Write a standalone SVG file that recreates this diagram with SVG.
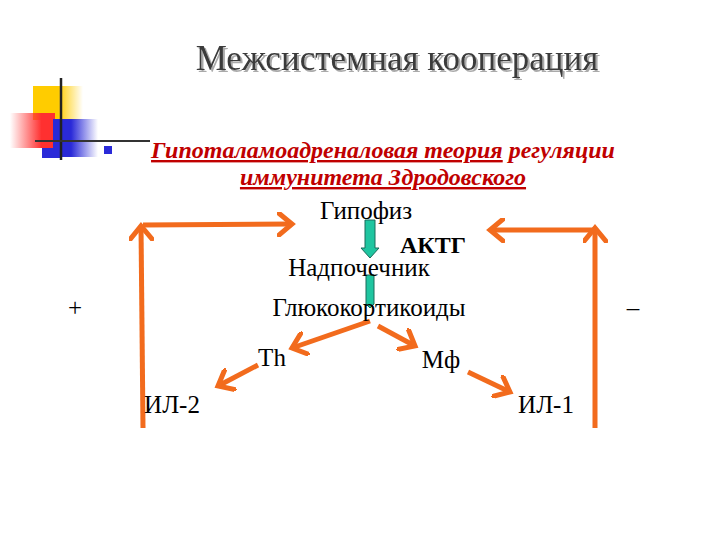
<svg xmlns="http://www.w3.org/2000/svg" width="720" height="540" viewBox="0 0 720 540">
<style>
.t{font-family:"Liberation Serif",serif;fill:#000;font-size:25px}
.o{stroke:#f26b1d;stroke-width:5;fill:none}
.g{fill:#1fc5a0;stroke:#1a6a5a;stroke-width:1}
.s{font-family:"Liberation Serif",serif;font-size:24px;font-style:italic;font-weight:bold;fill:#c00000}
.u{text-decoration:underline}
</style>
<defs>
<marker id="a" markerWidth="5" markerHeight="5" refX="3" refY="2.5" orient="auto" markerUnits="strokeWidth"><path d="M0,0 L3,2.5 L0,5" fill="none" stroke="#f26b1d" stroke-width="1"/></marker>
<linearGradient id="gy" x1="0" x2="1"><stop offset="0.5" stop-color="#ffcc00"/><stop offset="1" stop-color="#ffcc00" stop-opacity="0"/></linearGradient>
<linearGradient id="gr" x1="1" x2="0"><stop offset="0.3" stop-color="#ff3030"/><stop offset="1" stop-color="#ff3030" stop-opacity="0"/></linearGradient>
<linearGradient id="gb" x1="0" x2="1"><stop offset="0.4" stop-color="#2a2ad8"/><stop offset="1" stop-color="#2a2ad8" stop-opacity="0"/></linearGradient>
<filter id="sh"><feDropShadow dx="2" dy="2" stdDeviation="0.5" flood-color="#aaa"/></filter>
</defs>
<g id="deco">
<rect x="33" y="86" width="50" height="34" fill="url(#gy)"/>
<rect x="10" y="113" width="45" height="35" fill="url(#gr)"/>
<rect x="53" y="119" width="45" height="38" fill="url(#gb)"/>
<rect x="42" y="148" width="20" height="10" fill="#2a2ad8"/>
<line x1="61" y1="78" x2="61" y2="160" stroke="#222" stroke-width="2.5"/>
<line x1="35" y1="141" x2="150" y2="141" stroke="#333" stroke-width="2"/>
<rect x="104" y="146" width="8" height="8" fill="#2a2ad8"/>
</g>
<text x="397" y="70" text-anchor="middle" font-family="Liberation Serif,serif" font-size="35" fill="#3a3a3a" filter="url(#sh)">Межсистемная кооперация</text>
<text class="s" x="383" y="158" text-anchor="middle"><tspan class="u">Гипоталамоадреналовая теория</tspan> регуляции</text>
<text class="s u" x="383" y="185" text-anchor="middle">иммунитета Здродовского</text>
<g id="connectors">
<path class="o" d="M143,428 L141,226" marker-end="url(#a)"/>
<path class="o" d="M143,225 L292,224" marker-end="url(#a)"/>
<path class="o" d="M595,428 L595,228" marker-end="url(#a)"/>
<path class="o" d="M595,230 L490,230" marker-end="url(#a)"/>
<path class="o" d="M370,321 L292,348" marker-end="url(#a)"/>
<path class="o" d="M378,326 L415,346" marker-end="url(#a)"/>
<path class="o" d="M258,365 L218,386" marker-end="url(#a)"/>
<path class="o" d="M468,372 L510,392" marker-end="url(#a)"/>
<path class="g" d="M365,220 L375,220 L375,248 L379,248 L370,258 L361,248 L365,248 Z"/>
<path class="g" d="M366,275 L374,275 L374,304 L370,308 L366,304 Z"/>
</g>
<g id="n1"><text class="t" x="366" y="219" text-anchor="middle">Гипофиз</text></g>
<g id="n2"><text x="433" y="253" text-anchor="middle" font-family="Liberation Serif,serif" font-weight="bold" font-size="24">АКТГ</text></g>
<g id="n3"><text class="t" x="359" y="276" text-anchor="middle">Надпочечник</text></g>
<g id="n4"><text class="t" x="369" y="316" text-anchor="middle">Глюкокортикоиды</text></g>
<g id="n5"><text class="t" x="272" y="366" text-anchor="middle">Th</text></g>
<g id="n6"><text class="t" x="441" y="368" text-anchor="middle">Мф</text></g>
<g id="n7"><text class="t" x="172" y="413" text-anchor="middle">ИЛ-2</text></g>
<g id="n8"><text class="t" x="546" y="413" text-anchor="middle">ИЛ-1</text></g>
<text class="t" x="75" y="316" text-anchor="middle">+</text>
<text class="t" x="633" y="316" text-anchor="middle">–</text>
</svg>
